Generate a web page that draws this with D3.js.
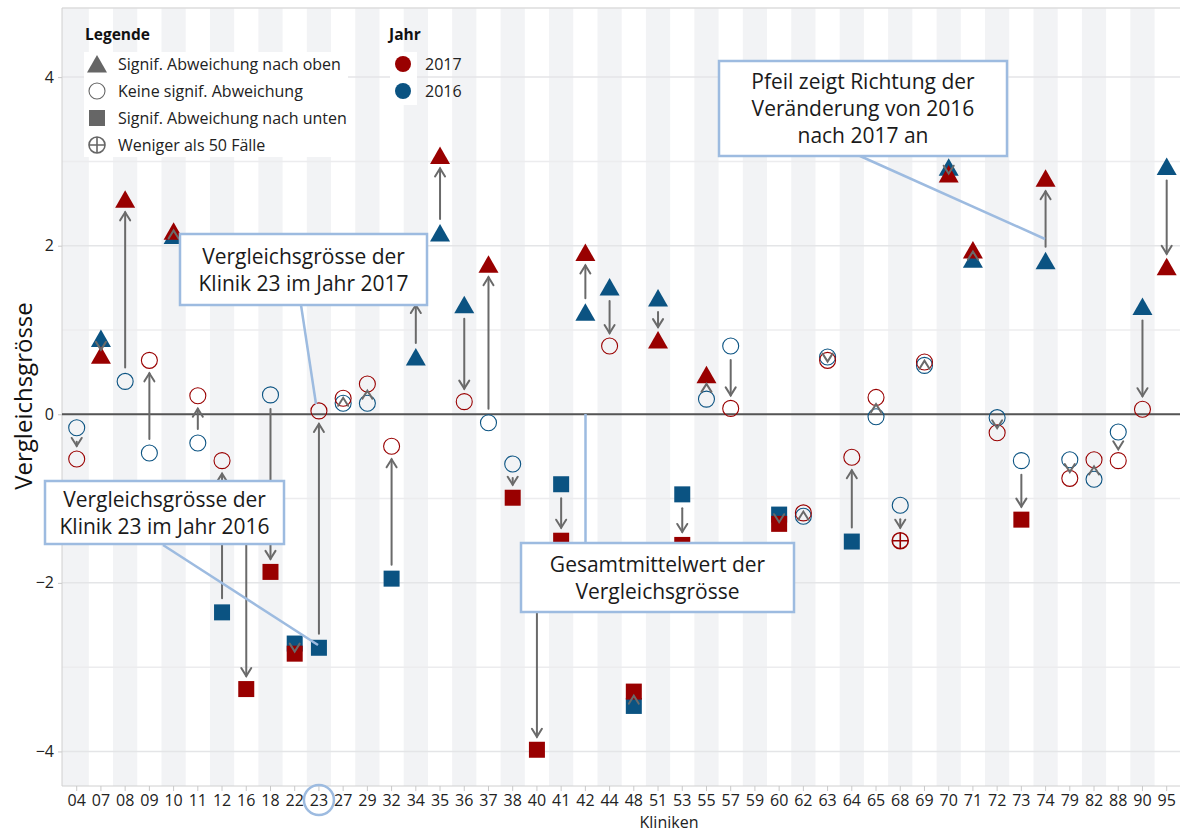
<!DOCTYPE html>
<html><head><meta charset="utf-8">
<script src="https://cdn.jsdelivr.net/npm/d3@7"></script>
<style>body{margin:0;background:#fff}svg{display:block}text{font-family:"Open Sans",sans-serif}</style>
</head><body>
<script>
const categories = ["04","07","08","09","10","11","12","16","18","22","23","27","29","32","34","35","36","37","38","40","41","42","44","48","51","53","55","57","59","60","62","63","64","65","68","69","70","71","72","73","74","79","82","88","90","95"];
const values2016 = [-0.16,0.90,0.39,-0.46,2.12,-0.34,-2.35,-0.95,0.23,-2.72,-2.77,0.13,0.13,-1.95,0.68,2.15,1.30,-0.10,-0.59,-2.10,-0.83,1.21,1.51,-3.46,1.38,-0.95,0.18,0.81,null,-1.19,-1.21,0.68,-1.51,-0.03,-1.08,0.58,2.93,1.84,-0.04,-0.55,1.82,-0.54,-0.77,-0.21,1.28,2.94];
const shapes2016 = ["c","t","c","c","t","c","s","c","c","s","s","c","c","s","t","t","t","c","c","s","s","t","t","s","t","s","c","c",null,"s","c","c","s","c","c","c","t","t","c","c","t","c","c","c","t","t"];
const values2017 = [-0.53,0.70,2.55,0.64,2.17,0.22,-0.55,-3.26,-1.87,-2.84,0.04,0.19,0.36,-0.38,1.45,3.07,0.15,1.78,-0.99,-3.98,-1.50,1.92,0.81,-3.29,0.88,-1.55,0.47,0.07,null,-1.30,-1.17,0.64,-0.51,0.20,-1.50,0.62,2.85,1.95,-0.22,-1.25,2.80,-0.76,-0.54,-0.55,0.06,1.75];
const shapes2017 = ["c","t","t","c","t","c","c","s","s","s","c","c","c","c","t","t","c","t","s","s","s","t","c","s","t","s","t","c",null,"s","c","c","c","c","x","c","t","t","c","s","t","c","c","c","c","t"];
const yTicks = [-4,-2,0,2,4];
const yGrid = [-4,-3,-2,-1,0,1,2,3,4];
const shapeLegend = [["t","Signif. Abweichung nach oben"],["c","Keine signif. Abweichung"],["s","Signif. Abweichung nach unten"],["x","Weniger als 50 Fälle"]];
const yearLegend = [["2017","#990000"],["2016","#0b5382"]];
const annotations = [
  {lines:["Vergleichsgrösse der","Klinik 23 im Jahr 2017"], box:[180,234,427,305], from:[301,305], to:[316,404]},
  {lines:["Vergleichsgrösse der","Klinik 23 im Jahr 2016"], box:[45,481,284,544], from:[163,545], to:[318,645]},
  {lines:["Gesamtmittelwert der","Vergleichsgrösse"], box:[521,543,794,612], from:[585.5,543], to:[585.5,414]},
  {lines:["Pfeil zeigt Richtung der","Veränderung von 2016","nach 2017 an"], box:[719,61,1007,156], from:[860,156], to:[1045,239]}
];

const W=1180,H=834;
const L=62,R=1180,T=8,B=786;
const RED="#990000", BLUE="#0b5382", ARROW="#6a6a6a", ANN="#9dbbe0";
const svg=d3.select("body").append("svg").attr("width",W).attr("height",H);

const x=d3.scaleBand().domain(categories).range([64.6,1178.8]).padding(0);
const cx=d=>x(d)+x.bandwidth()/2;
const y=d3.scaleLinear().domain([-4.41,4.82]).range([B,T]);

// bands
svg.append("g").selectAll("rect").data(categories.filter((d,i)=>i%2===0)).join("rect")
  .attr("x",d=>d===categories[0]?L:x(d)).attr("y",T)
  .attr("width",d=>d===categories[0]?x(d)+x.bandwidth()-L:x.bandwidth()).attr("height",B-T)
  .attr("fill","#f2f3f5");
// gridlines
svg.append("g").selectAll("line").data(yGrid).join("line")
  .attr("x1",L).attr("x2",R).attr("y1",d=>y(d)).attr("y2",d=>y(d))
  .attr("stroke",d=>d%2===0?"#e4e5e7":"#ececee").attr("stroke-width",1.5);
// top border
svg.append("line").attr("x1",L).attr("x2",R).attr("y1",T).attr("y2",T).attr("stroke","#dcdcdc").attr("stroke-width",1.5);

// axes
const yAxis=svg.append("g").attr("transform",`translate(${L},0)`)
  .call(d3.axisLeft(y).tickValues(yTicks).tickSize(4).tickFormat(d3.format("d")));
yAxis.select(".domain").attr("stroke","#d0d0d0").attr("d",`M0,${T}V${B}`);
yAxis.selectAll(".tick line").attr("stroke","#c8c8c8");
yAxis.selectAll(".tick text").attr("font-size",16).attr("fill","#222").attr("x",-8).attr("font-family","Open Sans");
const xAxis=svg.append("g").attr("transform",`translate(0,${B})`)
  .call(d3.axisBottom(x).tickSize(5).tickPadding(4));
xAxis.select(".domain").attr("stroke","#d0d0d0").attr("d",`M${L},0H${R}`);
xAxis.selectAll(".tick line").attr("stroke","#c8c8c8");
xAxis.selectAll(".tick text").attr("font-size",16).attr("fill","#222").attr("font-family","Open Sans");

// zero line
svg.append("line").attr("x1",L).attr("x2",R).attr("y1",y(0)).attr("y2",y(0)).attr("stroke","#555").attr("stroke-width",2);

// axis titles
svg.append("text").attr("transform",`translate(32,396) rotate(-90)`).attr("text-anchor","middle")
  .attr("font-size",24).attr("fill","#111").text("Vergleichsgrösse");
svg.append("text").attr("x",669).attr("y",828).attr("text-anchor","middle").attr("font-size",16).attr("fill","#222").text("Kliniken");

// marker drawer
function drawShape(g,shape,px,py,color){
  if(shape==="t"){
    g.append("path").attr("d",`M${px},${py-9}L${px+10},${py+8.5}L${px-10},${py+8.5}Z`).attr("fill",color);
  } else if(shape==="s"){
    g.append("rect").attr("x",px-8).attr("y",py-8).attr("width",16).attr("height",16).attr("fill",color);
  } else if(shape==="c"){
    g.append("circle").attr("cx",px).attr("cy",py).attr("r",8).attr("fill","none").attr("stroke",color).attr("stroke-width",1.1);
  } else if(shape==="x"){
    g.append("circle").attr("cx",px).attr("cy",py).attr("r",8).attr("fill","none").attr("stroke",color).attr("stroke-width",1.6);
    g.append("path").attr("d",`M${px-8},${py}H${px+8}M${px},${py-8}V${py+8}`).attr("stroke",color).attr("stroke-width",1.6);
  }
}

// legend
const lg=svg.append("g");
lg.append("rect").attr("x",84).attr("y",52).attr("width",264).attr("height",105).attr("fill","#fff");
lg.append("text").attr("x",85).attr("y",40).attr("font-size",15.5).attr("font-weight","bold").attr("fill","#111").text("Legende");
shapeLegend.forEach((d,i)=>{
  const py=64+i*27;
  drawShape(lg,d[0],97,py,"#666");
  lg.append("text").attr("x",118).attr("y",py+5.5).attr("font-size",16).attr("fill","#222").text(d[1]);
});
lg.append("rect").attr("x",390).attr("y",52).attr("width",27).attr("height",53).attr("fill","#fff");
lg.append("text").attr("x",389).attr("y",40).attr("font-size",15.5).attr("font-weight","bold").attr("fill","#111").text("Jahr");
yearLegend.forEach((d,i)=>{
  const py=64+i*27;
  lg.append("circle").attr("cx",403).attr("cy",py).attr("r",8).attr("fill",d[1]);
  lg.append("text").attr("x",425).attr("y",py+5.5).attr("font-size",16).attr("fill","#222").text(d[0]);
});

// markers
const mg=svg.append("g");
categories.forEach((c,i)=>{ if(values2016[i]!=null) drawShape(mg,shapes2016[i],cx(c),y(values2016[i]),BLUE); });
categories.forEach((c,i)=>{ if(values2017[i]!=null) drawShape(mg,shapes2017[i],cx(c),y(values2017[i]),RED); });

// arrows
const ag=svg.append("g").attr("stroke",ARROW).attr("stroke-width",2).attr("fill","none").attr("stroke-linecap","round");
categories.forEach((c,i)=>{
  const a=values2016[i],b=values2017[i];
  if(a==null||b==null) return;
  const px=cx(c),y1=y(a),y2=y(b);
  const dir=y2<y1?-1:1;
  let tipY;
  if(Math.abs(y2-y1)>30){
    const s=y1+14*dir; tipY=y2-13*dir;
    ag.append("line").attr("x1",px).attr("x2",px).attr("y1",s).attr("y2",tipY);
  } else {
    tipY=(y1+y2)/2+3*dir;
  }
  ag.append("path").attr("d",`M${px-5},${tipY-8*dir}L${px},${tipY}L${px+5},${tipY-8*dir}`);
});

// annotations
const an=svg.append("g");
annotations.forEach(a=>{
  an.append("line").attr("x1",a.from[0]).attr("y1",a.from[1]).attr("x2",a.to[0]).attr("y2",a.to[1])
    .attr("stroke",ANN).attr("stroke-width",2.5);
});
annotations.forEach(a=>{
  const [x0,y0,x1,y1]=a.box;
  an.append("rect").attr("x",x0).attr("y",y0).attr("width",x1-x0).attr("height",y1-y0)
    .attr("fill","#fff").attr("stroke",ANN).attr("stroke-width",2.5);
  const n=a.lines.length, lh=27, mid=(y0+y1)/2;
  a.lines.forEach((t,k)=>{
    an.append("text").attr("x",(x0+x1)/2).attr("y",mid+(k-(n-1)/2)*lh+7.5).attr("text-anchor","middle")
      .attr("font-size",21).attr("fill","#1a1a1a").text(t);
  });
});
// highlight tick 23
svg.append("circle").attr("cx",cx("23")).attr("cy",800).attr("r",15).attr("fill","none").attr("stroke",ANN).attr("stroke-width",2.5);
</script>
</body></html>
